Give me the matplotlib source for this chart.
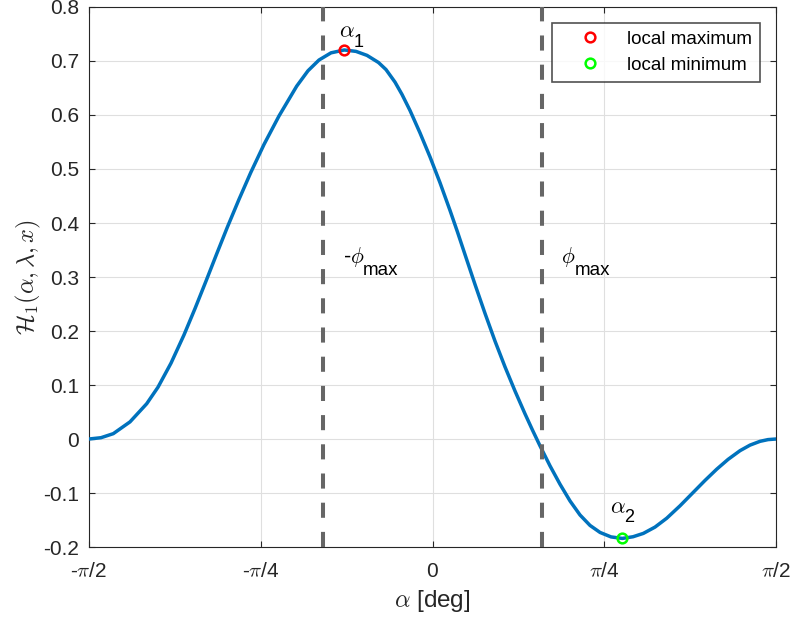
import numpy as np
import matplotlib
matplotlib.use("Agg")
from matplotlib import pyplot as plt

plt.rcParams['font.family'] = ['Liberation Sans', 'DejaVu Sans']
plt.rcParams['mathtext.fontset'] = 'cm'

# curve (alpha in rad, H1 value)
alpha = [-1.5708, -1.5159, -1.4597, -1.3833, -1.3069, -1.2553, -1.1958, -1.1364,
         -1.0861, -1.0358, -0.9877, -0.9384, -0.8849, -0.8309, -0.7705, -0.7019,
         -0.6210, -0.5693, -0.5190, -0.4641, -0.4033, -0.3498, -0.2995, -0.2469,
         -0.2126, -0.1715, -0.1395, -0.1029, -0.0572, -0.0114, 0.0343, 0.0800,
         0.1143, 0.1486, 0.1943, 0.2401, 0.2858, 0.3315, 0.3773, 0.4230,
         0.4573, 0.4916, 0.5373, 0.5830, 0.6288, 0.6745, 0.7202, 0.7660,
         0.8163, 0.8679, 0.9169, 0.9640, 1.0175, 1.0710, 1.1318, 1.1926,
         1.2461, 1.2996, 1.3513, 1.4062, 1.4519, 1.4976, 1.5342, 1.5708]
h1 = [0.0, 0.0024, 0.0099, 0.0317, 0.0653, 0.0959, 0.1404, 0.1927,
      0.2414, 0.2923, 0.3419, 0.3919, 0.4437, 0.4936, 0.5454, 0.5982,
      0.6534, 0.6819, 0.7018, 0.7151, 0.7204, 0.7178, 0.7104, 0.6972,
      0.6841, 0.6609, 0.6381, 0.6084, 0.5669, 0.5224, 0.4746, 0.4234,
      0.3833, 0.3416, 0.2863, 0.2326, 0.1813, 0.1336, 0.0888, 0.0466,
      0.0164, -0.0127, -0.0497, -0.0837, -0.1147, -0.1407, -0.1600, -0.1730,
      -0.1813, -0.1841, -0.1810, -0.1748, -0.1631, -0.1467, -0.1237, -0.0987,
      -0.0767, -0.0559, -0.0378, -0.0216, -0.0113, -0.0043, -0.0011, 0.0]

phi_max = 0.5
alpha1, h_max = -0.4033, 0.7204
alpha2, h_min = 0.8679, -0.1839

xticks = [-np.pi / 2, -np.pi / 4, 0, np.pi / 4, np.pi / 2]
xticklabels = [r'-$\pi$/2', r'-$\pi$/4', r'$\mathdefault{0}$', r'$\pi$/4', r'$\pi$/2']
yticks = [-0.2, -0.1, 0, 0.1, 0.2, 0.3, 0.4, 0.5, 0.6, 0.7, 0.8]

fig = plt.figure(figsize=(7.93, 6.19), dpi=100)
ax = fig.add_axes([0.1122, 0.1163, 0.8664, 0.8724])

ax.plot(alpha, h1, color='#0072BD', lw=2.5, zorder=3)
dash = (0, (3.75, 3.5))
ax.axvline(-phi_max, color='#666666', lw=2.9, ls=dash, zorder=4)
ax.axvline(phi_max, color='#666666', lw=2.9, ls=dash, zorder=4)
ax.plot(alpha1, h_max, 'o', mfc='none', mec='#FF0000', mew=1.8, ms=7,
        label='local maximum', zorder=5)
ax.plot(alpha2, h_min, 'o', mfc='none', mec='#00FF00', mew=1.8, ms=7,
        label='local minimum', zorder=5)


def piece(s, xy, off, size):
    ax.annotate(s, xy=xy, xytext=off, textcoords='offset points',
                fontsize=size, ha='left', va='baseline', color='black', zorder=6)


# marker labels
piece(r'$\alpha$', (alpha1, h_max), (-3.8, 9.4), 16.5)
piece('1', (alpha1, h_max), (6.6, 2.2), 13.0)
piece(r'$\alpha$', (alpha2, h_min), (-8.9, 18.2), 16.5)
piece('2', (alpha2, h_min), (1.4, 11.7), 13.0)

# phi_max labels
y_lab = 0.326
piece(r'-$\phi$', (-phi_max, y_lab), (14.0, 0), 15.5)
piece('max', (-phi_max, y_lab), (28.4, -8.6), 13.5)
piece(r'$\phi$', (phi_max, y_lab), (13.7, 0), 15.5)
piece('max', (phi_max, y_lab), (23.6, -8.6), 13.5)

ax.set_xlim(-np.pi / 2, np.pi / 2)
ax.set_ylim(-0.2, 0.8)
ax.set_xticks(xticks)
ax.set_xticklabels(xticklabels)
ax.set_yticks(yticks)
ax.set_yticklabels([f'{v:g}' for v in yticks])
ax.tick_params(labelsize=15, colors='#262626', direction='in', length=4.5,
               top=True, right=True)
ax.tick_params(axis='x', pad=11)
ax.tick_params(axis='y', pad=7)
ax.grid(True, color='#DFDFDF', lw=0.8)
ax.set_axisbelow(True)
for s in ax.spines.values():
    s.set_color('#262626')
    s.set_linewidth(0.8)

ax.set_xlabel(r'$\alpha$ [deg]', fontsize=17.5, color='#262626', labelpad=5)
ax.set_ylabel(r'$\mathcal{H}_1(\alpha,\lambda,x)$', fontsize=17.5,
              color='#262626', labelpad=0.5)

leg = ax.legend(loc='upper right', fontsize=13.5, frameon=True, fancybox=False,
                edgecolor='#262626', borderaxespad=0.85, handlelength=3.22,
                handletextpad=0.36, borderpad=0.42, labelspacing=0.46)
leg.get_frame().set_linewidth(1.2)
leg.set_zorder(7)

fig.savefig('out.png', dpi=100)
